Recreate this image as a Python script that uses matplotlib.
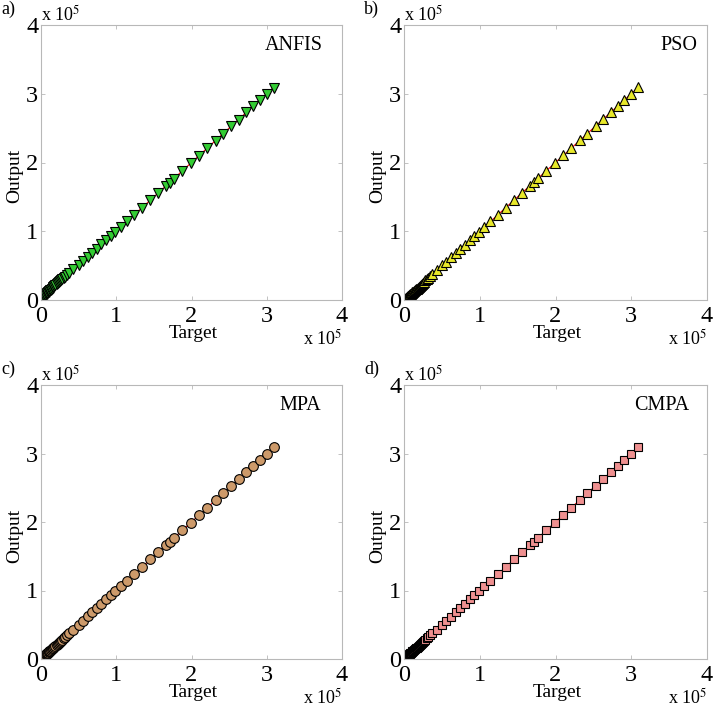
import numpy as np
import matplotlib
matplotlib.use("Agg")
import matplotlib.pyplot as plt

plt.rcParams["font.family"] = ["Liberation Serif", "DejaVu Serif"]
plt.rcParams["mathtext.fontset"] = "stix"

# values in units of 1e5
target = [0.000, 0.002, 0.004, 0.006, 0.008, 0.010, 0.013, 0.016, 0.019, 0.022,
          0.026, 0.030, 0.035, 0.040, 0.046, 0.052, 0.059, 0.066, 0.074, 0.082,
          0.091, 0.100, 0.110, 0.120, 0.131, 0.142, 0.154, 0.166, 0.179, 0.192,
          0.206, 0.220, 0.235, 0.250, 0.266, 0.283, 0.300, 0.320, 0.345, 0.375,
          0.430, 0.500, 0.560, 0.620, 0.680, 0.740, 0.800, 0.870, 0.930, 0.990,
          1.060, 1.140, 1.240, 1.340, 1.455, 1.555, 1.660, 1.710, 1.770, 1.880,
          1.990, 2.100, 2.210, 2.320, 2.420, 2.530, 2.630, 2.730, 2.820, 2.910,
          3.000, 3.090]

out_anfis = [0.000, 0.006, 0.010, 0.013, 0.016, 0.019, 0.023, 0.027, 0.031, 0.035,
             0.040, 0.045, 0.051, 0.057, 0.063, 0.070, 0.077, 0.085, 0.093, 0.101,
             0.110, 0.120, 0.130, 0.141, 0.152, 0.163, 0.175, 0.187, 0.200, 0.213,
             0.227, 0.241, 0.256, 0.271, 0.287, 0.304, 0.321, 0.341, 0.366, 0.396,
             0.447, 0.514, 0.572, 0.631, 0.689, 0.748, 0.808, 0.877, 0.936, 0.996,
             1.064, 1.143, 1.240, 1.337, 1.451, 1.552, 1.656, 1.706, 1.765, 1.878,
             1.986, 2.095, 2.205, 2.318, 2.420, 2.530, 2.625, 2.728, 2.818, 2.912,
             3.002, 3.088]

out_pso = [0.000, 0.002, 0.004, 0.007, 0.009, 0.011, 0.014, 0.017, 0.020, 0.023,
           0.027, 0.031, 0.036, 0.041, 0.047, 0.053, 0.060, 0.067, 0.075, 0.083,
           0.092, 0.101, 0.111, 0.121, 0.132, 0.143, 0.155, 0.167, 0.180, 0.193,
           0.207, 0.221, 0.236, 0.251, 0.267, 0.284, 0.301, 0.322, 0.347, 0.377,
           0.432, 0.502, 0.558, 0.622, 0.679, 0.742, 0.801, 0.868, 0.931, 0.992,
           1.058, 1.142, 1.238, 1.342, 1.452, 1.557, 1.662, 1.712, 1.768, 1.882,
           1.988, 2.102, 2.208, 2.322, 2.418, 2.532, 2.628, 2.732, 2.818, 2.912,
           2.998, 3.092]

out_mpa = [0.000, 0.002, 0.005, 0.006, 0.009, 0.010, 0.013, 0.017, 0.019, 0.023,
           0.026, 0.031, 0.035, 0.041, 0.046, 0.053, 0.059, 0.067, 0.074, 0.083,
           0.091, 0.101, 0.110, 0.121, 0.131, 0.143, 0.154, 0.167, 0.179, 0.193,
           0.206, 0.221, 0.235, 0.251, 0.266, 0.284, 0.300, 0.321, 0.345, 0.376,
           0.430, 0.501, 0.560, 0.621, 0.680, 0.741, 0.800, 0.871, 0.930, 0.991,
           1.060, 1.141, 1.239, 1.340, 1.454, 1.556, 1.660, 1.711, 1.770, 1.881,
           1.990, 2.099, 2.210, 2.321, 2.420, 2.529, 2.630, 2.731, 2.820, 2.909,
           3.000, 3.090]

out_cmpa = [0.000, 0.002, 0.004, 0.006, 0.008, 0.010, 0.013, 0.016, 0.019, 0.022,
            0.026, 0.030, 0.035, 0.040, 0.046, 0.052, 0.059, 0.066, 0.074, 0.082,
            0.091, 0.100, 0.110, 0.120, 0.131, 0.142, 0.154, 0.166, 0.179, 0.192,
            0.206, 0.220, 0.235, 0.250, 0.266, 0.283, 0.300, 0.320, 0.345, 0.375,
            0.430, 0.500, 0.560, 0.620, 0.680, 0.740, 0.800, 0.870, 0.930, 0.990,
            1.060, 1.140, 1.240, 1.340, 1.455, 1.555, 1.660, 1.710, 1.770, 1.880,
            1.990, 2.100, 2.210, 2.320, 2.420, 2.530, 2.630, 2.730, 2.820, 2.910,
            3.000, 3.090]

models = ["ANFIS", "PSO", "MPA", "CMPA"]
panel_tags = ["a)", "b)", "c)", "d)"]
outputs = [out_anfis, out_pso, out_mpa, out_cmpa]
markers = ["v", "^", "o", "s"]
sizes = [7, 7, 7, 5.5]
colors = ["#33cc33", "#e8e82a", "#cd9a6a", "#ef9090"]

W, H = 714, 709
fig = plt.figure(figsize=(W / 100, H / 100), dpi=100)

# axes boxes in pixels: left, top, right, bottom
boxes = [(41, 25, 342, 300), (404, 25, 707, 300),
         (41, 385, 342, 659), (404, 385, 707, 659)]
name_x = [0.935, 0.967, 0.93, 0.94]

grey = "#b8b8b8"
for i, (l, t, r, b) in enumerate(boxes):
    ax = fig.add_axes([l / W, 1 - b / H, (r - l) / W, (b - t) / H])
    x = np.array(target)
    y = np.array(outputs[i])
    ax.plot([0, x.max()], [0, x.max()], color="red", lw=0.8, zorder=1)
    ax.plot(x, y, linestyle="none", marker=markers[i], ms=sizes[i],
            mfc=colors[i], mec="black", mew=0.8, zorder=2)
    ax.set_xlim(0, 4)
    ax.set_ylim(0, 4)
    ax.set_xticks([0, 1, 2, 3, 4])
    ax.set_yticks([0, 1, 2, 3, 4])
    ax.tick_params(direction="in", length=3, width=0.6, color=grey,
                   labelsize=17.5, top=True, right=True)
    ax.tick_params(axis="x", pad=4)
    ax.tick_params(axis="y", pad=2)
    for s in ax.spines.values():
        s.set_color(grey)
        s.set_linewidth(0.8)
    ax.set_ylabel("Output", fontsize=14, labelpad=0)
    ax.yaxis.set_label_coords(-0.06, 0.45)
    ax.text(0.505, -0.09, "Target", transform=ax.transAxes, fontsize=14,
            ha="center", va="top")
    ax.text(name_x[i], 0.925, models[i], transform=ax.transAxes, fontsize=14.5,
            ha="right", va="center")
    ax.text(0.0, 1.0, r"x 10$^{5}$", transform=ax.transAxes, fontsize=13,
            ha="left", va="bottom")
    ax.text(1.0, -0.14, r"x 10$^{5}$", transform=ax.transAxes, fontsize=13,
            ha="right", va="center")
    fig.text((l - 41) / W + 0.002, 1 - (t - 16) / H, panel_tags[i], fontsize=13,
             ha="left", va="center")

fig.savefig("out.png", dpi=100)
